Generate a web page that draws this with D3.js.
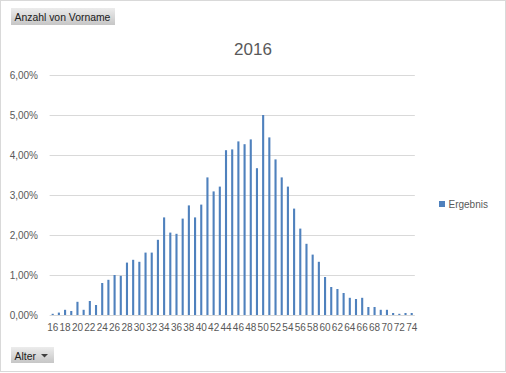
<!DOCTYPE html>
<html>
<head>
<meta charset="utf-8">
<script src="https://cdn.jsdelivr.net/npm/d3@7"></script>
<style>
  html, body { margin: 0; padding: 0; background: #fff; }
  svg { display: block; font-family: "Liberation Sans", Arial, sans-serif; }
</style>
</head>
<body>
<svg id="chart" width="506" height="373"></svg>
<script>
// Anteil je Alter (in %), 2016
const ages = d3.range(16, 75);
const shares = [
  0.03, 0.06, 0.13, 0.10, 0.33, 0.13, 0.35, 0.25, 0.80, 0.88,
  1.00, 0.98, 1.31, 1.38, 1.33, 1.56, 1.56, 1.88, 2.44, 2.06,
  2.03, 2.41, 2.74, 2.44, 2.76, 3.44, 3.09, 3.21, 4.12, 4.14,
  4.34, 4.27, 4.39, 3.67, 5.00, 4.44, 3.89, 3.44, 3.21, 2.66,
  2.16, 1.78, 1.51, 1.33, 0.95, 0.70, 0.65, 0.55, 0.43, 0.40,
  0.43, 0.20, 0.20, 0.13, 0.13, 0.05, 0.03, 0.05, 0.05
];
const yTicks = [0, 1, 2, 3, 4, 5, 6];
const xTickLabels = ages.filter((a) => a % 2 === 0);
const title = '2016';
const seriesName = 'Ergebnis';

const svg = d3.select('#chart');
const textColor = '#595959';
const gridColor = '#d9d9d9';
const barColor = '#4f81bd';

// outer frame
svg.append('rect')
  .attr('x', 0.5).attr('y', 0.5)
  .attr('width', 505).attr('height', 371)
  .attr('fill', '#fff')
  .attr('stroke', gridColor);

const x = d3.scaleBand().domain(ages).range([49.6, 414.8]).paddingInner(0.66).paddingOuter(0.33);
const y = d3.scaleLinear().domain([0, 6]).range([315, 75]);

// gridlines
svg.append('g')
  .selectAll('line')
  .data(yTicks)
  .enter()
  .append('line')
  .attr('x1', 49.6)
  .attr('x2', 414.8)
  .attr('y1', (d) => Math.round(y(d)) + 0.5)
  .attr('y2', (d) => Math.round(y(d)) + 0.5)
  .attr('stroke', gridColor);

// y axis labels
const yAxis = svg.append('g')
  .attr('transform', 'translate(38,0)')
  .call(d3.axisLeft(y).tickValues(yTicks).tickSize(0).tickPadding(0)
    .tickFormat((d) => d.toFixed(2).replace('.', ',') + '%'));
yAxis.select('.domain').remove();
yAxis.selectAll('text').attr('fill', textColor).attr('font-size', 10).attr('font-family', null);

// bars
svg.append('g')
  .selectAll('rect')
  .data(ages)
  .enter()
  .append('rect')
  .attr('x', (d) => x(d))
  .attr('width', x.bandwidth())
  .attr('y', (d, i) => y(shares[i]))
  .attr('height', (d, i) => y(0) - y(shares[i]))
  .attr('fill', barColor);

// x axis labels
const xAxis = svg.append('g')
  .attr('transform', 'translate(0,324)')
  .call(d3.axisBottom(x).tickValues(xTickLabels).tickSize(0).tickPadding(0));
xAxis.select('.domain').remove();
xAxis.selectAll('text').attr('fill', textColor).attr('font-size', 10).attr('font-family', null);

// title
svg.append('text')
  .attr('x', 253).attr('y', 55)
  .attr('text-anchor', 'middle')
  .attr('font-size', 17)
  .attr('fill', textColor)
  .text(title);

// legend
svg.append('rect').attr('x', 439).attr('y', 201).attr('width', 6).attr('height', 6).attr('fill', barColor);
svg.append('text')
  .attr('x', 448.5).attr('y', 207.5)
  .attr('font-size', 10)
  .attr('fill', textColor)
  .text(seriesName);

// field buttons
const defs = svg.append('defs');
const grad = defs.append('linearGradient').attr('id', 'btn').attr('x1', 0).attr('x2', 0).attr('y1', 0).attr('y2', 1);
grad.append('stop').attr('offset', '0%').attr('stop-color', '#ececec');
grad.append('stop').attr('offset', '100%').attr('stop-color', '#c6c6c6');

function fieldButton(bx, by, bw, bh, label, arrow) {
  const g = svg.append('g');
  g.append('rect').attr('x', bx).attr('y', by).attr('width', bw).attr('height', bh).attr('fill', 'url(#btn)');
  g.append('text')
    .attr('x', bx + 3.5).attr('y', by + 12.5)
    .attr('font-size', 10.4)
    .attr('fill', '#1a1a1a')
    .text(label);
  if (arrow) {
    const ax = bx + bw - 13;
    const ay = by + 7;
    g.append('path')
      .attr('d', `M${ax},${ay}L${ax + 7},${ay}L${ax + 3.5},${ay + 3.5}Z`)
      .attr('fill', '#404040');
  }
}
fieldButton(11, 8, 104, 17, 'Anzahl von Vorname', false);
fieldButton(11, 347, 43, 16, 'Alter', true);
</script>
</body>
</html>
